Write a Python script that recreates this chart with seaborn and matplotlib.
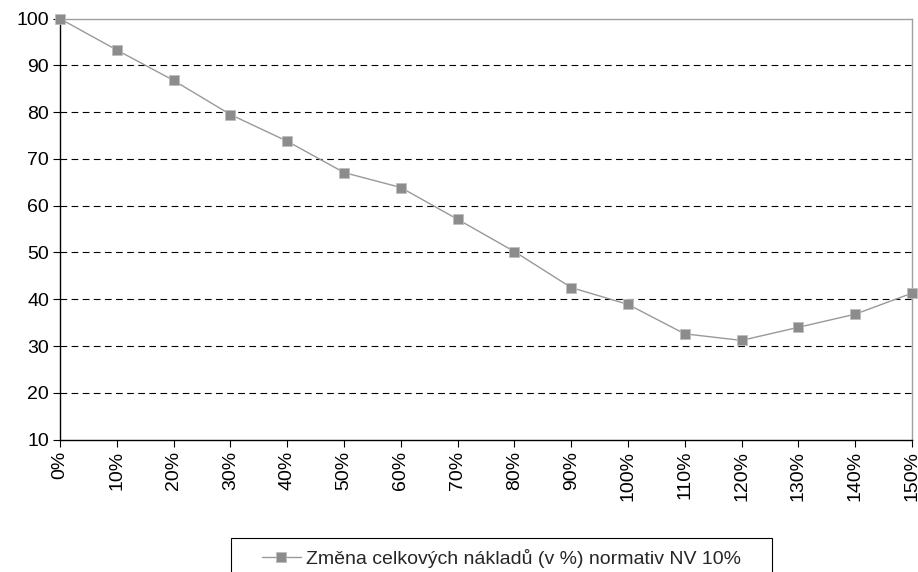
import pandas as pd
import matplotlib
matplotlib.use("Agg")
import matplotlib.pyplot as plt
import seaborn as sns

# data
pct = [0, 10, 20, 30, 40, 50, 60, 70, 80, 90, 100, 110, 120, 130, 140, 150]
x_labels = [f"{p}%" for p in pct]
naklady = [100.0, 93.3, 86.8, 79.5, 73.8, 67.1, 63.9, 57.1, 50.2, 42.5,
           38.9, 32.6, 31.2, 34.0, 36.8, 41.3]
series_name = "Změna celkových nákladů (v %) normativ NV 10%"
y_ticks = [10, 20, 30, 40, 50, 60, 70, 80, 90, 100]

sns.set_style("white")
plt.rcParams['font.family'] = ['Liberation Sans', 'DejaVu Sans']

df = pd.DataFrame({"pct": pct, "value": naklady, "serie": series_name})

fig = plt.figure(figsize=(9.18, 5.72), dpi=100)
ax = fig.add_axes([0.0654, 0.2316, 0.928, 0.7357])

sns.lineplot(data=df, x="pct", y="value", hue="serie", palette=["#999999"],
             marker="s", markersize=7, markerfacecolor="#8c8c8c",
             markeredgecolor="#bdbdbd", markeredgewidth=0.6,
             linewidth=1.0, ax=ax, zorder=3, clip_on=False)

ax.set_xlim(0, 150)
ax.set_ylim(10, 100)
ax.set_xticks(pct)
ax.set_xticklabels(x_labels, rotation=90, fontsize=14)
ax.set_yticks(y_ticks)
ax.set_yticklabels([str(t) for t in y_ticks], fontsize=14)
ax.set_xlabel("")
ax.set_ylabel("")

for t in y_ticks[1:-1]:
    ax.axhline(t, color="black", linestyle=(0, (6, 4)), linewidth=0.8, zorder=1)

ax.spines["left"].set_color("black")
ax.spines["bottom"].set_color("black")
ax.spines["top"].set_color("#a0a0a0")
ax.spines["right"].set_color("#a0a0a0")
for s in ax.spines.values():
    s.set_linewidth(1.0)
ax.tick_params(axis="both", direction="out", length=5, width=0.8,
               color="black", colors="black", bottom=True, left=True, pad=3)

# legend: no frame of its own, a plain box drawn around it
ax.legend_.remove()
handles, labels = ax.get_legend_handles_labels()
leg = fig.legend(handles, labels, loc="upper left", bbox_to_anchor=(0.2854, 0.041),
                 frameon=False, fontsize=14, handlelength=2.0, handletextpad=0.25,
                 borderpad=0, borderaxespad=0)
box = plt.Rectangle((231 / 918, -0.05), (772 - 231) / 918, 0.05 + (572 - 538) / 572,
                    transform=fig.transFigure, fill=False, edgecolor="black",
                    linewidth=0.8)
fig.add_artist(box)

fig.savefig("out.png", dpi=100)
